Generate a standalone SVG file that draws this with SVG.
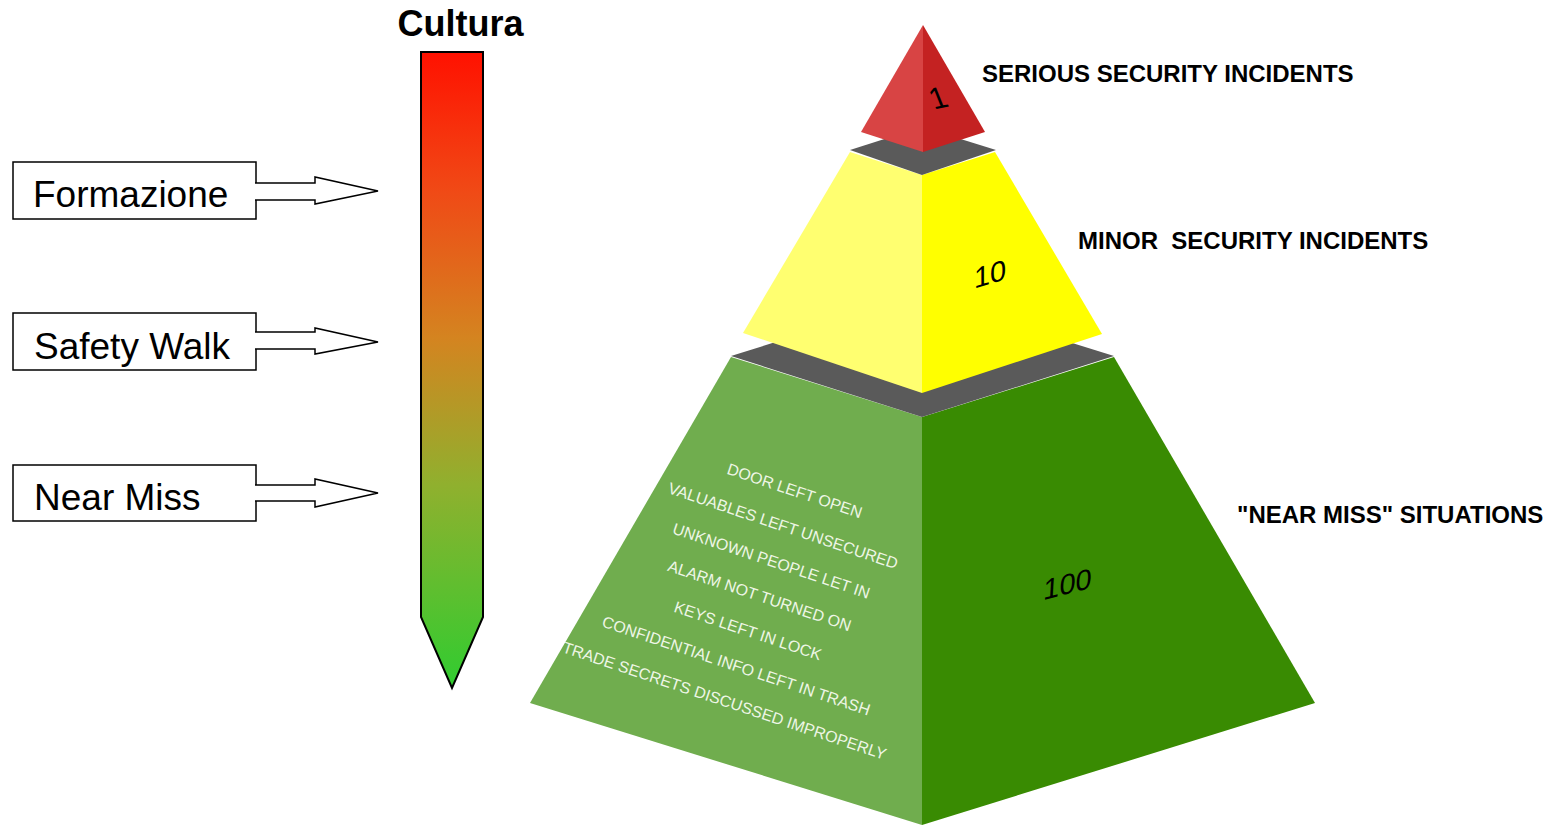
<svg xmlns="http://www.w3.org/2000/svg" width="1553" height="825" viewBox="0 0 1553 825">
  <defs>
    <linearGradient id="cult" gradientUnits="userSpaceOnUse" x1="0" y1="52" x2="0" y2="688">
      <stop offset="0" stop-color="#ff1100"/>
      <stop offset="0.22" stop-color="#f04a16"/>
      <stop offset="0.45" stop-color="#d48420"/>
      <stop offset="0.68" stop-color="#90b02e"/>
      <stop offset="1" stop-color="#30cc30"/>
    </linearGradient>
  </defs>
  <style>
    .box { fill: #ffffff; stroke: #000000; stroke-width: 1.5; }
    .boxtxt { font-family: "Liberation Sans", Arial, sans-serif; font-size: 37px; fill: #000000; }
    .lbl { font-family: "Liberation Sans", Arial, sans-serif; font-size: 24px; font-weight: bold; fill: #000000; }
    .num { font-family: "Liberation Sans", Arial, sans-serif; font-size: 29px; fill: #000000; text-anchor: middle; }
    .gtxt { font-family: "Liberation Sans", Arial, sans-serif; font-size: 16px; fill: #eef6e6; text-anchor: middle; }
    .slab { fill: #5a5a5a; }
  </style>
  <rect width="1553" height="825" fill="#ffffff"/>

  <g id="cultura">
    <text x="460.5" y="36" font-family="Liberation Sans, Arial, sans-serif" font-size="36" font-weight="bold" text-anchor="middle">Cultura</text>
    <polygon points="421,52 483,52 483,617 452,688 421,617" fill="url(#cult)" stroke="#000000" stroke-width="2" stroke-linejoin="miter"/>
  </g>

  <g id="node-formazione">
    <rect class="box" x="13" y="162" width="243" height="57"/>
    <text class="boxtxt" x="33" y="207">Formazione</text>
  </g>
  <g id="node-safetywalk">
    <rect class="box" x="13" y="313" width="243" height="57"/>
    <text class="boxtxt" x="34" y="359">Safety Walk</text>
  </g>
  <g id="node-nearmiss">
    <rect class="box" x="13" y="465" width="243" height="56"/>
    <text class="boxtxt" x="34" y="510">Near Miss</text>
  </g>

  <g id="connectors">
    <path class="box" d="M255,183 H315 V177 L378,191 L315,204 V200 H255"/>
    <path class="box" d="M255,332 H315 V328 L378,342 L315,354 V349 H255"/>
    <path class="box" d="M255,485 H315 V479 L378,493 L315,507 V501 H255"/>
  </g>

  <g id="level-green">
    <polygon points="731,357 922,417 922,825 530,703" fill="#70ad4e"/>
    <polygon points="1114,357 922,417 922,825 1315,703" fill="#398b02"/>
    <polygon class="slab" points="731,356 922,296 1114,356 922,417"/>
    <g transform="translate(793,496) rotate(18.5)">
      <text class="gtxt" x="0" y="0">DOOR LEFT OPEN</text>
      <text class="gtxt" x="0" y="36.9">VALUABLES LEFT UNSECURED</text>
      <text class="gtxt" x="0" y="73.8">UNKNOWN PEOPLE LET IN</text>
      <text class="gtxt" x="0" y="110.7">ALARM NOT TURNED ON</text>
      <text class="gtxt" x="0" y="147.6">KEYS LEFT IN LOCK</text>
      <text class="gtxt" x="0" y="184.5">CONFIDENTIAL INFO LEFT IN TRASH</text>
      <text class="gtxt" x="0" y="221.4">TRADE SECRETS DISCUSSED IMPROPERLY</text>
    </g>
    <text class="num" transform="matrix(1,-0.26,-0.06,1,1067,594)">100</text>
  </g>

  <g id="level-yellow">
    <polygon points="850,152 922,175 922,393 743,333" fill="#ffff70"/>
    <polygon points="995,152 922,175 922,393 1102,334" fill="#ffff00"/>
    <polygon class="slab" points="850,150 922,127 996,150 922,175"/>
    <text class="num" transform="matrix(1,-0.3,0,1,990,284)">10</text>
  </g>

  <g id="level-red">
    <polygon points="923,25 861,132 923,152" fill="#d84444"/>
    <polygon points="923,25 985,132 923,152" fill="#c42222"/>
    <text class="num" font-size="29" transform="matrix(1,-0.2,0.4,1,942,108)">1</text>
  </g>

  <g id="labels">
    <text class="lbl" x="982" y="82">SERIOUS SECURITY INCIDENTS</text>
    <text class="lbl" x="1078" y="248.5" xml:space="preserve">MINOR  SECURITY INCIDENTS</text>
    <text class="lbl" x="1237" y="522.5">"NEAR MISS" SITUATIONS</text>
  </g>
</svg>
